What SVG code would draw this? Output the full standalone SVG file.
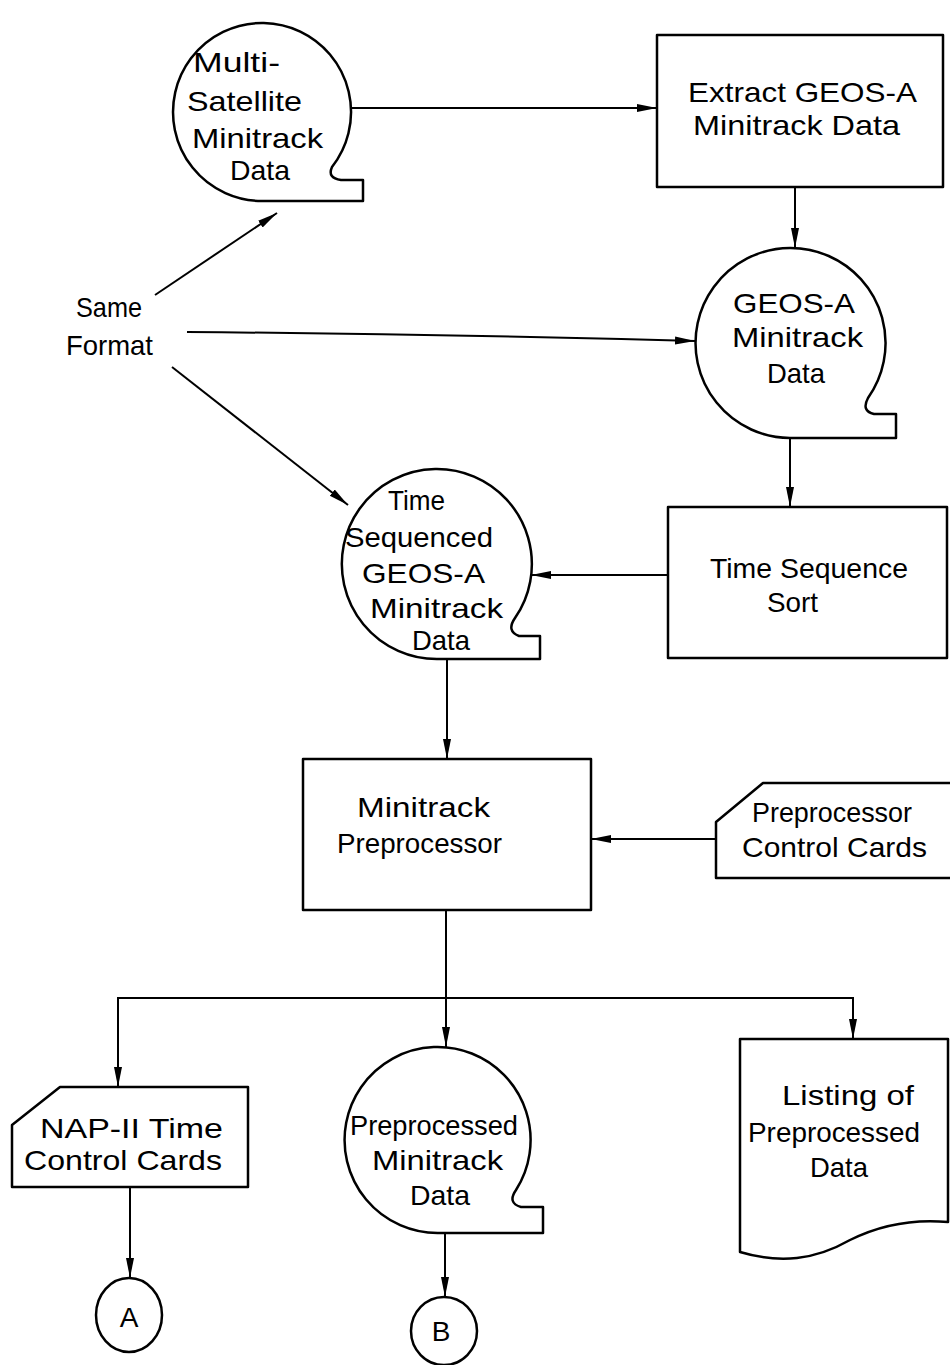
<svg xmlns="http://www.w3.org/2000/svg" width="950" height="1365" viewBox="0 0 950 1365">
<defs>
<marker id="arr" viewBox="0 0 20 10" refX="20" refY="5" markerWidth="20" markerHeight="10" markerUnits="userSpaceOnUse" orient="auto">
<path d="M0,1 L20,5 L0,9 Z" fill="#000"/>
</marker>
</defs>
<style>
.s{fill:#fff;stroke:#000;stroke-width:2.5;stroke-linejoin:round}
.c{fill:none;stroke:#000;stroke-width:2}
.t{font-family:"Liberation Sans",Arial,sans-serif;font-size:28px;fill:#000}
</style>
<rect width="950" height="1365" fill="#fff"/>

<g id="connectors">
<line class="c" x1="351" y1="108" x2="657" y2="108" marker-end="url(#arr)"/>
<line class="c" x1="795" y1="187" x2="795" y2="248" marker-end="url(#arr)"/>
<line class="c" x1="155" y1="295" x2="277" y2="213" marker-end="url(#arr)"/>
<path class="c" d="M187,332 Q440,334 695,341" marker-end="url(#arr)"/>
<line class="c" x1="172" y1="367" x2="348" y2="505" marker-end="url(#arr)"/>
<line class="c" x1="790" y1="438" x2="790" y2="507" marker-end="url(#arr)"/>
<line class="c" x1="668" y1="575" x2="531" y2="575" marker-end="url(#arr)"/>
<line class="c" x1="447" y1="659" x2="447" y2="759" marker-end="url(#arr)"/>
<line class="c" x1="716" y1="839" x2="591" y2="839" marker-end="url(#arr)"/>
<line class="c" x1="446" y1="910" x2="446" y2="998"/>
<line class="c" x1="117" y1="998" x2="854" y2="998"/>
<line class="c" x1="118" y1="998" x2="118" y2="1087" marker-end="url(#arr)"/>
<line class="c" x1="446" y1="998" x2="446" y2="1047" marker-end="url(#arr)"/>
<line class="c" x1="853" y1="998" x2="853" y2="1039" marker-end="url(#arr)"/>
<line class="c" x1="130" y1="1187" x2="130" y2="1278" marker-end="url(#arr)"/>
<line class="c" x1="445" y1="1233" x2="445" y2="1297" marker-end="url(#arr)"/>
</g>

<g id="same-format">
<text class="t" x="76" y="317" textLength="66" lengthAdjust="spacingAndGlyphs">Same</text>
<text class="t" x="66" y="355" textLength="87" lengthAdjust="spacingAndGlyphs">Format</text>
</g>

<g id="tape-multi">
<path class="s" d="M332,167 A89,89 0 1 0 262,201 H363 V180 H341 Q327,178 332,167 Z"/>
<text class="t" x="193" y="72" textLength="87" lengthAdjust="spacingAndGlyphs">Multi-</text>
<text class="t" x="187" y="111" textLength="115" lengthAdjust="spacingAndGlyphs">Satellite</text>
<text class="t" x="192" y="148" textLength="131" lengthAdjust="spacingAndGlyphs">Minitrack</text>
<text class="t" x="230" y="180" textLength="60" lengthAdjust="spacingAndGlyphs">Data</text>
</g>

<g id="extract">
<rect class="s" x="657" y="35" width="286" height="152"/>
<text class="t" x="688" y="102" textLength="229" lengthAdjust="spacingAndGlyphs">Extract GEOS-A</text>
<text class="t" x="693" y="135" textLength="207" lengthAdjust="spacingAndGlyphs">Minitrack Data</text>
</g>

<g id="tape-geos">
<path class="s" d="M868,398 A95,95 0 1 0 790,438 H896 V414 H874 Q861,411 868,398 Z"/>
<text class="t" x="733" y="313" textLength="122" lengthAdjust="spacingAndGlyphs">GEOS-A</text>
<text class="t" x="732" y="347" textLength="131" lengthAdjust="spacingAndGlyphs">Minitrack</text>
<text class="t" x="767" y="383" textLength="58" lengthAdjust="spacingAndGlyphs">Data</text>
</g>

<g id="sort">
<rect class="s" x="668" y="507" width="279" height="151"/>
<text class="t" x="710" y="578" textLength="198" lengthAdjust="spacingAndGlyphs">Time Sequence</text>
<text class="t" x="767" y="612" textLength="51" lengthAdjust="spacingAndGlyphs">Sort</text>
</g>

<g id="tape-timeseq">
<path class="s" d="M515,618 A95,95 0 1 0 437,659 H540 V636 H519 Q506,631 515,618 Z"/>
<text class="t" x="388" y="510" textLength="57" lengthAdjust="spacingAndGlyphs">Time</text>
<text class="t" x="345" y="547" textLength="148" lengthAdjust="spacingAndGlyphs">Sequenced</text>
<text class="t" x="362" y="583" textLength="123" lengthAdjust="spacingAndGlyphs">GEOS-A</text>
<text class="t" x="370" y="618" textLength="133" lengthAdjust="spacingAndGlyphs">Minitrack</text>
<text class="t" x="412" y="650" textLength="58" lengthAdjust="spacingAndGlyphs">Data</text>
</g>

<g id="preprocessor">
<rect class="s" x="303" y="759" width="288" height="151"/>
<text class="t" x="357" y="817" textLength="133" lengthAdjust="spacingAndGlyphs">Minitrack</text>
<text class="t" x="337" y="853" textLength="165" lengthAdjust="spacingAndGlyphs">Preprocessor</text>
</g>

<g id="control-cards">
<path class="s" d="M716,822 L763,783 H956 V878 H716 Z"/>
<text class="t" x="752" y="822" textLength="160" lengthAdjust="spacingAndGlyphs">Preprocessor</text>
<text class="t" x="742" y="857" textLength="185" lengthAdjust="spacingAndGlyphs">Control Cards</text>
</g>

<g id="nap-cards">
<path class="s" d="M12,1125 L60,1087 H248 V1187 H12 Z"/>
<text class="t" x="40" y="1138" textLength="183" lengthAdjust="spacingAndGlyphs">NAP-II Time</text>
<text class="t" x="24" y="1170" textLength="198" lengthAdjust="spacingAndGlyphs">Control Cards</text>
</g>

<g id="tape-preprocessed">
<path class="s" d="M516,1190 A93,93 0 1 0 438,1233 H543 V1207 H521 Q507,1203 516,1190 Z"/>
<text class="t" x="350" y="1135" textLength="168" lengthAdjust="spacingAndGlyphs">Preprocessed</text>
<text class="t" x="372" y="1170" textLength="131" lengthAdjust="spacingAndGlyphs">Minitrack</text>
<text class="t" x="410" y="1205" textLength="60" lengthAdjust="spacingAndGlyphs">Data</text>
</g>

<g id="listing">
<path class="s" d="M740,1039 H948 V1222 C915,1219 880,1225 850,1240 C815,1260 780,1264 740,1252 Z"/>
<text class="t" x="782" y="1105" textLength="132" lengthAdjust="spacingAndGlyphs">Listing of</text>
<text class="t" x="748" y="1142" textLength="172" lengthAdjust="spacingAndGlyphs">Preprocessed</text>
<text class="t" x="810" y="1177" textLength="58" lengthAdjust="spacingAndGlyphs">Data</text>
</g>

<g id="connector-a">
<ellipse class="s" cx="129" cy="1315" rx="33" ry="37"/>
<text class="t" x="129" y="1327" text-anchor="middle">A</text>
</g>

<g id="connector-b">
<ellipse class="s" cx="444" cy="1331" rx="33" ry="34"/>
<text class="t" x="441" y="1341" text-anchor="middle">B</text>
</g>
</svg>
